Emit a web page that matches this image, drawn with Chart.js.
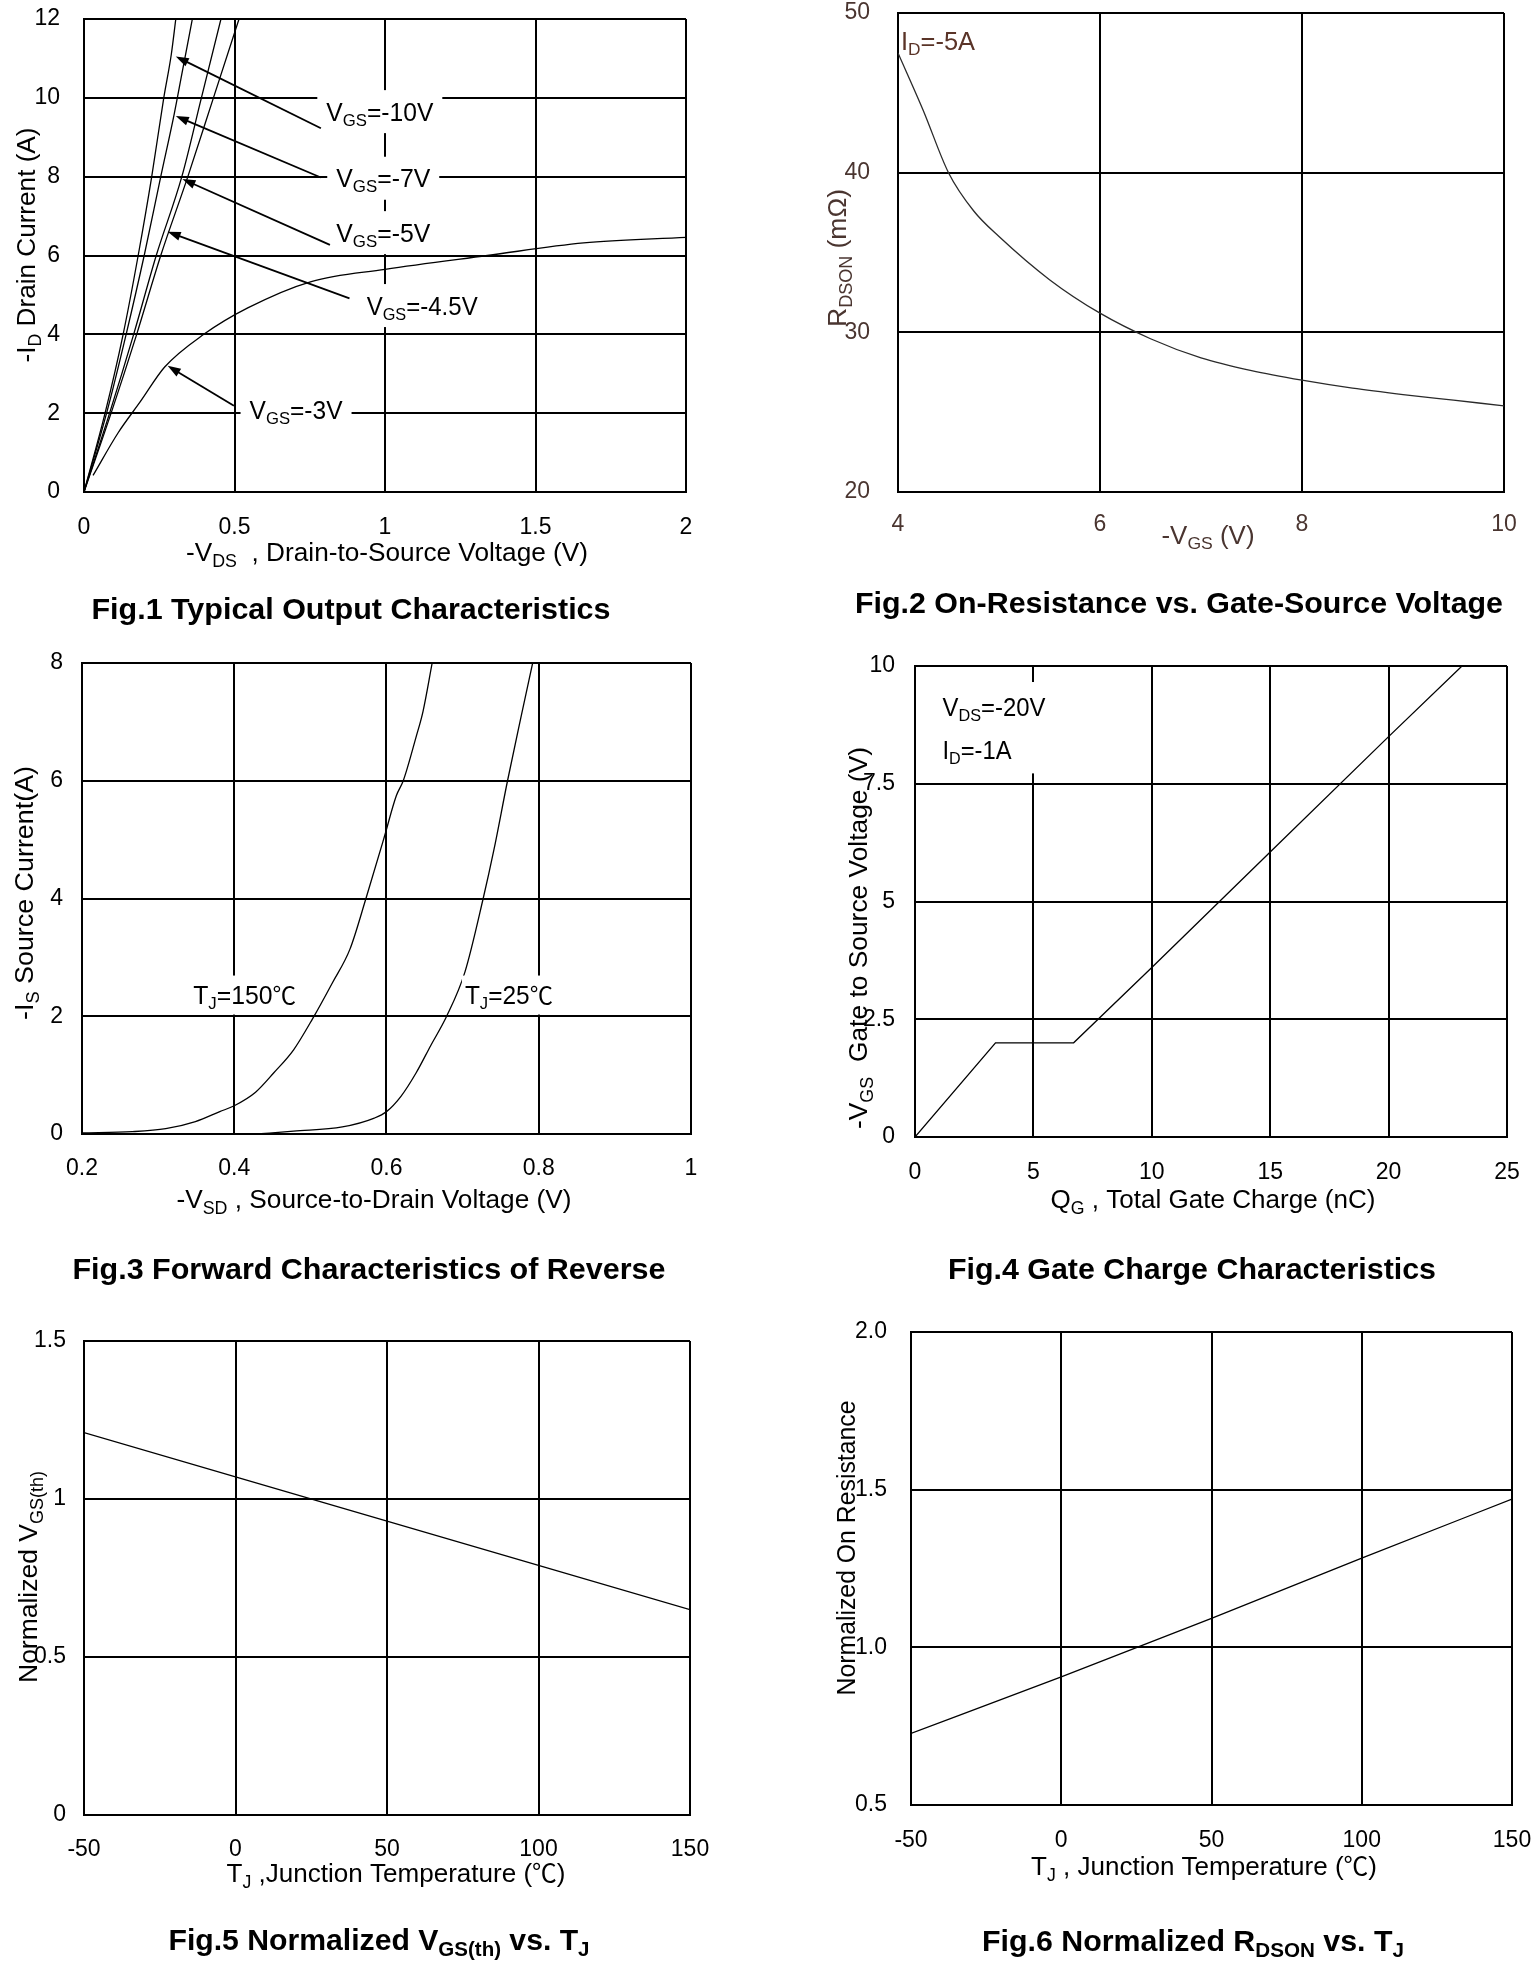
<!DOCTYPE html>
<html>
<head>
<meta charset="utf-8">
<title>Typical characteristics</title>
<script src="https://cdn.jsdelivr.net/npm/chart.js@4.4.1/dist/chart.umd.min.js"></script>
<style>
  html, body { margin: 0; padding: 0; background: #fff; }
  #page { position: relative; width: 1537px; height: 1974px; background: #fff; overflow: hidden; }
  #page canvas { position: absolute; }
</style>
</head>
<body>
<div id="page">
  <canvas id="fig1" width="768" height="640" style="left:0;top:0"></canvas>
  <canvas id="fig2" width="769" height="640" style="left:768px;top:0"></canvas>
  <canvas id="fig3" width="768" height="660" style="left:0;top:640px"></canvas>
  <canvas id="fig4" width="769" height="660" style="left:768px;top:640px"></canvas>
  <canvas id="fig5" width="768" height="674" style="left:0;top:1300px"></canvas>
  <canvas id="fig6" width="769" height="674" style="left:768px;top:1300px"></canvas>
</div>
<script>
const FONT = '"Liberation Sans", Arial, Helvetica, sans-serif';
const CJK_FONT = '"Noto Sans CJK SC", "Noto Sans CJK JP", sans-serif';
const TICK_SIZE = 23;

// ======== FIG.1 OUTPUT CHARACTERISTICS ========
const FIG1_X_TICKS = [0, 0.5, 1, 1.5, 2];
const FIG1_Y_TICKS = [0, 2, 4, 6, 8, 10, 12];
const VDS_10V = [0, 0.07, 0.13, 0.18, 0.225, 0.265, 0.29, 0.305];
const ID_10V = [0, 2, 4, 6, 8, 10, 11.1, 12];
const VDS_7V = [0, 0.075, 0.14, 0.2, 0.255, 0.3, 0.325, 0.36];
const ID_7V = [0, 2, 4, 6, 8, 9.6, 10.6, 12];
const VDS_5V = [0, 0.085, 0.165, 0.24, 0.325, 0.39, 0.455];
const ID_5V = [0, 2, 4, 6, 8, 10, 12];
const VDS_45V = [0, 0.09, 0.175, 0.255, 0.345, 0.43, 0.515];
const ID_45V = [0, 2, 4, 6, 8, 10, 12];
const VDS_3V = [0.03, 0.114, 0.187, 0.268, 0.398, 0.544, 0.755, 1.0, 1.34, 1.66, 2.0];
const ID_3V = [0.42, 1.51, 2.29, 3.17, 4.0, 4.67, 5.34, 5.65, 6.0, 6.32, 6.46];

// ======== FIG.2 ON-RESISTANCE ========
const FIG2_X_TICKS = [4, 6, 8, 10];
const FIG2_Y_TICKS = [20, 30, 40, 50];
const VGS_SWEEP = [4, 4.25, 4.5, 4.75, 5, 5.5, 6, 6.5, 7, 7.5, 8, 8.5, 9, 9.5, 10];
const RDSON_MOHM = [47.5, 43.9, 40.0, 37.6, 36.0, 33.3, 31.2, 29.6, 28.4, 27.6, 27.0, 26.5, 26.1, 25.75, 25.4];

// ======== FIG.3 BODY DIODE ========
const FIG3_X_TICKS = [0.2, 0.4, 0.6, 0.8, 1];
const FIG3_Y_TICKS = [0, 2, 4, 6, 8];
const VSD_150C = [0.2, 0.266, 0.31, 0.349, 0.381, 0.4, 0.428, 0.452, 0.478, 0.503, 0.529, 0.552, 0.573, 0.597, 0.613, 0.622, 0.639, 0.648, 0.66];
const IS_150C = [0.02, 0.04, 0.09, 0.21, 0.38, 0.48, 0.71, 1.04, 1.43, 1.96, 2.57, 3.14, 4.0, 5.04, 5.75, 6.0, 6.75, 7.18, 8.0];
const VSD_25C = [0.43, 0.478, 0.542, 0.584, 0.6, 0.619, 0.639, 0.658, 0.679, 0.703, 0.727, 0.741, 0.759, 0.777, 0.792];
const IS_25C = [0, 0.05, 0.12, 0.27, 0.38, 0.64, 1.04, 1.5, 2.0, 2.75, 4.0, 4.82, 6.0, 7.1, 8.0];

// ======== FIG.4 GATE CHARGE ========
const FIG4_X_TICKS = [0, 5, 10, 15, 20, 25];
const FIG4_Y_TICKS = [0, 2.5, 5, 7.5, 10];
const QG_NC = [0, 3.4, 6.7, 10, 15, 20, 23.1];
const VGS_CHARGE = [0, 2, 2, 3.6, 6.05, 8.5, 10];

// ======== FIG.5 / FIG.6 TEMPERATURE ========
const TJ_TICKS = [-50, 0, 50, 100, 150];
const FIG5_Y_TICKS = [0, 0.5, 1, 1.5];
const FIG6_Y_TICKS = [0.5, 1.0, 1.5, 2.0];
const TJ_C = [-50, 0, 50, 100, 150];
const VTH_NORM = [1.21, 1.07, 0.93, 0.79, 0.65];
const RDSON_NORM = [0.727, 0.906, 1.092, 1.283, 1.47];

// ======== TEXT WITH SUBSCRIPTS ========
// part = [text, 1 -> subscript, 2 -> CJK glyph (℃)]
function drawRich(ctx, t) {
    const size = t.size || 25;
    const weight = t.bold ? 'bold ' : '';
    const fontOf = p => p[1] === 2 ? (size * 0.95) + 'px ' + CJK_FONT
        : weight + (p[1] ? size * 0.68 : size) + 'px ' + FONT;
    let w = 0;
    t.parts.forEach(p => { ctx.font = fontOf(p); w += ctx.measureText(p[0]).width; });
    const sx = t.width ? t.width / w : 1;
    const left = t.align === 'left' ? 0 : -w * sx / 2;
    ctx.save();
    ctx.translate(t.x, t.y);
    if (t.rotate) ctx.rotate(-Math.PI / 2);
    if (t.bg) {
        ctx.fillStyle = '#fff';
        ctx.fillRect(left - t.bg[0], -size / 2 - t.bg[1], w * sx + 2 * t.bg[0], size + 2 * t.bg[1]);
    }
    ctx.translate(left, 0);
    ctx.scale(sx, 1);
    ctx.fillStyle = t.color || '#000';
    ctx.textAlign = 'left';
    ctx.textBaseline = 'alphabetic';
    let cx = 0;
    t.parts.forEach(p => {
        ctx.font = fontOf(p);
        ctx.fillText(p[0], cx, size * 0.36 + (p[1] === 1 ? size * 0.2 : 0));
        cx += ctx.measureText(p[0]).width;
    });
    ctx.restore();
}

function arrow(ctx, x1, y1, x2, y2) {
    const a = Math.atan2(y2 - y1, x2 - x1), len = 13, half = 4.5;
    ctx.beginPath();
    ctx.moveTo(x1, y1);
    ctx.lineTo(x2 - 6 * Math.cos(a), y2 - 6 * Math.sin(a));
    ctx.stroke();
    ctx.beginPath();
    ctx.moveTo(x2, y2);
    ctx.lineTo(x2 - len * Math.cos(a) + half * Math.sin(a), y2 - len * Math.sin(a) - half * Math.cos(a));
    ctx.lineTo(x2 - len * Math.cos(a) - half * Math.sin(a), y2 - len * Math.sin(a) + half * Math.cos(a));
    ctx.closePath();
    ctx.fill();
}

// ======== AXES AND CHARTS ========
const fmtNum = v => String(Math.round(v * 100) / 100);

function axis(ticks, o) {
    return {
        type: 'linear',
        min: ticks[0],
        max: ticks[ticks.length - 1],
        afterBuildTicks: sc => { sc.ticks = ticks.map(v => ({ value: v })); },
        afterFit: sc => {
            if (o.w !== undefined) sc.width = o.w; else sc.height = o.h;
            // the plot box is fixed, so labels must not push it around
            sc.paddingTop = sc.paddingBottom = sc.paddingLeft = sc.paddingRight = 0;
        },
        grid: { color: '#000', lineWidth: 2, drawTicks: false },
        border: { color: '#000', width: 2 },
        ticks: {
            padding: o.pad,
            color: o.color || '#000',
            autoSkip: false,
            maxRotation: 0,
            font: { family: FONT, size: TICK_SIZE },
            callback: o.fmt || fmtNum
        }
    };
}

function pts(xs, ys) {
    return xs.map((x, i) => ({ x, y: ys[i] }));
}

function makeChart(id, spec) {
    const cv = document.getElementById(id);
    const b = spec.box;
    return new Chart(cv, {
        type: 'scatter',
        data: {
            datasets: spec.series.map(s => ({
                data: pts(s.x, s.y),
                showLine: true,
                pointRadius: 0,
                borderColor: s.color || '#000',
                borderWidth: s.width || 1.3,
                cubicInterpolationMode: s.smooth ? 'monotone' : 'default',
                tension: 0
            }))
        },
        options: {
            responsive: false,
            animation: false,
            devicePixelRatio: 1,
            layout: { padding: { left: 0, top: b.T, right: cv.width - b.R, bottom: 0 } },
            plugins: { legend: { display: false }, tooltip: { enabled: false } },
            scales: {
                x: axis(spec.xTicks, { h: cv.height - b.B, pad: spec.xPad, color: spec.tickColor, fmt: spec.xFmt }),
                y: axis(spec.yTicks, { w: b.L, pad: spec.yPad, color: spec.tickColor, fmt: spec.yFmt })
            }
        },
        plugins: [{
            id: 'deco',
            afterDatasetsDraw: ch => {
                if (!spec.deco) return;
                const X = v => ch.scales.x.getPixelForValue(v);
                const Y = v => ch.scales.y.getPixelForValue(v);
                spec.deco(ch.ctx, X, Y);
            },
            afterDraw: ch => spec.texts.forEach(t => drawRich(ch.ctx, t))
        }]
    });
}

// ======== FIG.1 ========
const FIG1_NOTES = [
    { parts: [['V'], ['GS', 1], ['=-10V']], at: [0.805, 9.65], w: 107, from: [0.787, 9.23], to: [0.305, 11.05] },
    { parts: [['V'], ['GS', 1], ['=-7V']], at: [0.838, 7.96], w: 94, from: [0.787, 7.98], to: [0.305, 9.54] },
    { parts: [['V'], ['GS', 1], ['=-5V']], at: [0.838, 6.58], w: 94, from: [0.817, 6.27], to: [0.327, 7.94] },
    { parts: [['V'], ['GS', 1], ['=-4.5V']], at: [0.939, 4.73], w: 111, from: [0.882, 4.91], to: [0.278, 6.6] },
    { parts: [['V'], ['GS', 1], ['=-3V']], at: [0.55, 2.08], w: 93, from: [0.498, 2.19], to: [0.278, 3.2] }
];

makeChart('fig1', {
    box: { L: 84, R: 686, T: 19, B: 492 },
    xTicks: FIG1_X_TICKS, yTicks: FIG1_Y_TICKS, xPad: 22, yPad: 24,
    series: [
        { x: VDS_10V, y: ID_10V, smooth: true },
        { x: VDS_7V, y: ID_7V, smooth: true },
        { x: VDS_5V, y: ID_5V, smooth: true },
        { x: VDS_45V, y: ID_45V, smooth: true },
        { x: VDS_3V, y: ID_3V, smooth: true }
    ],
    deco: (ctx, X, Y) => {
        FIG1_NOTES.forEach(n => drawRich(ctx, { parts: n.parts, x: X(n.at[0]), y: Y(n.at[1]), align: 'left', width: n.w, size: 25, bg: [9, 9] }));
        ctx.save();
        ctx.strokeStyle = '#000';
        ctx.fillStyle = '#000';
        ctx.lineWidth = 1.8;
        FIG1_NOTES.forEach(n => arrow(ctx, X(n.from[0]), Y(n.from[1]), X(n.to[0]), Y(n.to[1])));
        ctx.restore();
    },
    texts: [
        { parts: [['-V'], ['DS', 1], ['  , Drain-to-Source Voltage (V)']], x: 387, y: 552, width: 402, size: 26 },
        { parts: [['-I'], ['D', 1], [' Drain Current (A)']], x: 26, y: 245, width: 235, size: 26, rotate: true },
        { parts: [['Fig.1 Typical Output Characteristics']], x: 351, y: 608, width: 519, size: 30, bold: true }
    ]
});

// ======== FIG.2 ========
const BROWN = '#4a3530';
makeChart('fig2', {
    box: { L: 130, R: 736, T: 13, B: 492 },
    xTicks: FIG2_X_TICKS, yTicks: FIG2_Y_TICKS, xPad: 19, yPad: 28, tickColor: BROWN,
    series: [{ x: VGS_SWEEP, y: RDSON_MOHM, smooth: true, color: '#2a2a2a' }],
    deco: (ctx, X, Y) => {
        drawRich(ctx, { parts: [['I'], ['D', 1], ['=-5A']], x: X(4.03), y: Y(48.27), align: 'left', width: 74, size: 25, color: '#5a3428' });
    },
    texts: [
        { parts: [['-V'], ['GS', 1], [' (V)']], x: 440, y: 535, width: 93, size: 25, color: BROWN },
        { parts: [['R'], ['DSON', 1], [' (mΩ)']], x: 69, y: 258, width: 138, size: 26, rotate: true, color: BROWN },
        { parts: [['Fig.2 On-Resistance vs. Gate-Source Voltage']], x: 411, y: 602, width: 648, size: 30, bold: true }
    ]
});

// ======== FIG.3 ========
makeChart('fig3', {
    box: { L: 82, R: 691, T: 23, B: 494 },
    xTicks: FIG3_X_TICKS, yTicks: FIG3_Y_TICKS, xPad: 21, yPad: 19,
    series: [
        { x: VSD_150C, y: IS_150C, smooth: true },
        { x: VSD_25C, y: IS_25C, smooth: true }
    ],
    deco: (ctx, X, Y) => {
        drawRich(ctx, { parts: [['T'], ['J', 1], ['=150'], ['℃', 2]], x: X(0.346), y: Y(2.36), align: 'left', width: 103, size: 25, bg: [3, 7] });
        drawRich(ctx, { parts: [['T'], ['J', 1], ['=25'], ['℃', 2]], x: X(0.703), y: Y(2.36), align: 'left', width: 88, size: 25, bg: [3, 7] });
    },
    texts: [
        { parts: [['-V'], ['SD', 1], [' , Source-to-Drain Voltage (V)']], x: 374, y: 559, width: 395, size: 26 },
        { parts: [['-I'], ['S', 1], [' Source Current(A)']], x: 24, y: 253, width: 254, size: 26, rotate: true },
        { parts: [['Fig.3 Forward Characteristics of Reverse']], x: 369, y: 628, width: 593, size: 30, bold: true }
    ]
});

// ======== FIG.4 ========
makeChart('fig4', {
    box: { L: 147, R: 739, T: 26, B: 497 },
    xTicks: FIG4_X_TICKS, yTicks: FIG4_Y_TICKS, xPad: 22, yPad: 20,
    series: [{ x: QG_NC, y: VGS_CHARGE }],
    deco: (ctx, X, Y) => {
        ctx.fillStyle = '#fff';
        ctx.fillRect(X(0.9), Y(9.66), X(5.9) - X(0.9), Y(7.72) - Y(9.66));
        drawRich(ctx, { parts: [['V'], ['DS', 1], ['=-20V']], x: X(1.16), y: Y(9.13), align: 'left', width: 103, size: 25 });
        drawRich(ctx, { parts: [['I'], ['D', 1], ['=-1A']], x: X(1.16), y: Y(8.22), align: 'left', width: 69, size: 25 });
    },
    texts: [
        { parts: [['Q'], ['G', 1], [' , Total Gate Charge (nC)']], x: 445, y: 559, width: 325, size: 26 },
        { parts: [['-V'], ['GS', 1], ['  Gate to Source Voltage (V)']], x: 90, y: 298, width: 382, size: 26, rotate: true },
        { parts: [['Fig.4 Gate Charge Characteristics']], x: 424, y: 628, width: 488, size: 30, bold: true }
    ]
});

// ======== FIG.5 ========
makeChart('fig5', {
    box: { L: 84, R: 690, T: 41, B: 515 },
    xTicks: TJ_TICKS, yTicks: FIG5_Y_TICKS, xPad: 21, yPad: 18,
    series: [{ x: TJ_C, y: VTH_NORM }],
    texts: [
        { parts: [['T'], ['J', 1], [' ,Junction Temperature ('], ['℃', 2], [')']], x: 396, y: 573, width: 339, size: 26 },
        { parts: [['Normalized V'], ['GS(th)', 1]], x: 28, y: 277, width: 212, size: 26, rotate: true },
        { parts: [['Fig.5 Normalized V'], ['GS(th)', 1], [' vs. T'], ['J', 1]], x: 379, y: 639, width: 421, size: 30, bold: true }
    ]
});

// ======== FIG.6 ========
makeChart('fig6', {
    box: { L: 143, R: 744, T: 32, B: 505 },
    xTicks: TJ_TICKS, yTicks: FIG6_Y_TICKS, xPad: 22, yPad: 24, yFmt: v => v.toFixed(1),
    series: [{ x: TJ_C, y: RDSON_NORM, smooth: true }],
    texts: [
        { parts: [['T'], ['J', 1], [' , Junction Temperature ('], ['℃', 2], [')']], x: 436, y: 566, width: 346, size: 26 },
        { parts: [['Normalized On Resistance']], x: 78, y: 248, width: 295, size: 26, rotate: true },
        { parts: [['Fig.6 Normalized R'], ['DSON', 1], [' vs. T'], ['J', 1]], x: 425, y: 640, width: 422, size: 30, bold: true }
    ]
});
</script>
</body>
</html>
